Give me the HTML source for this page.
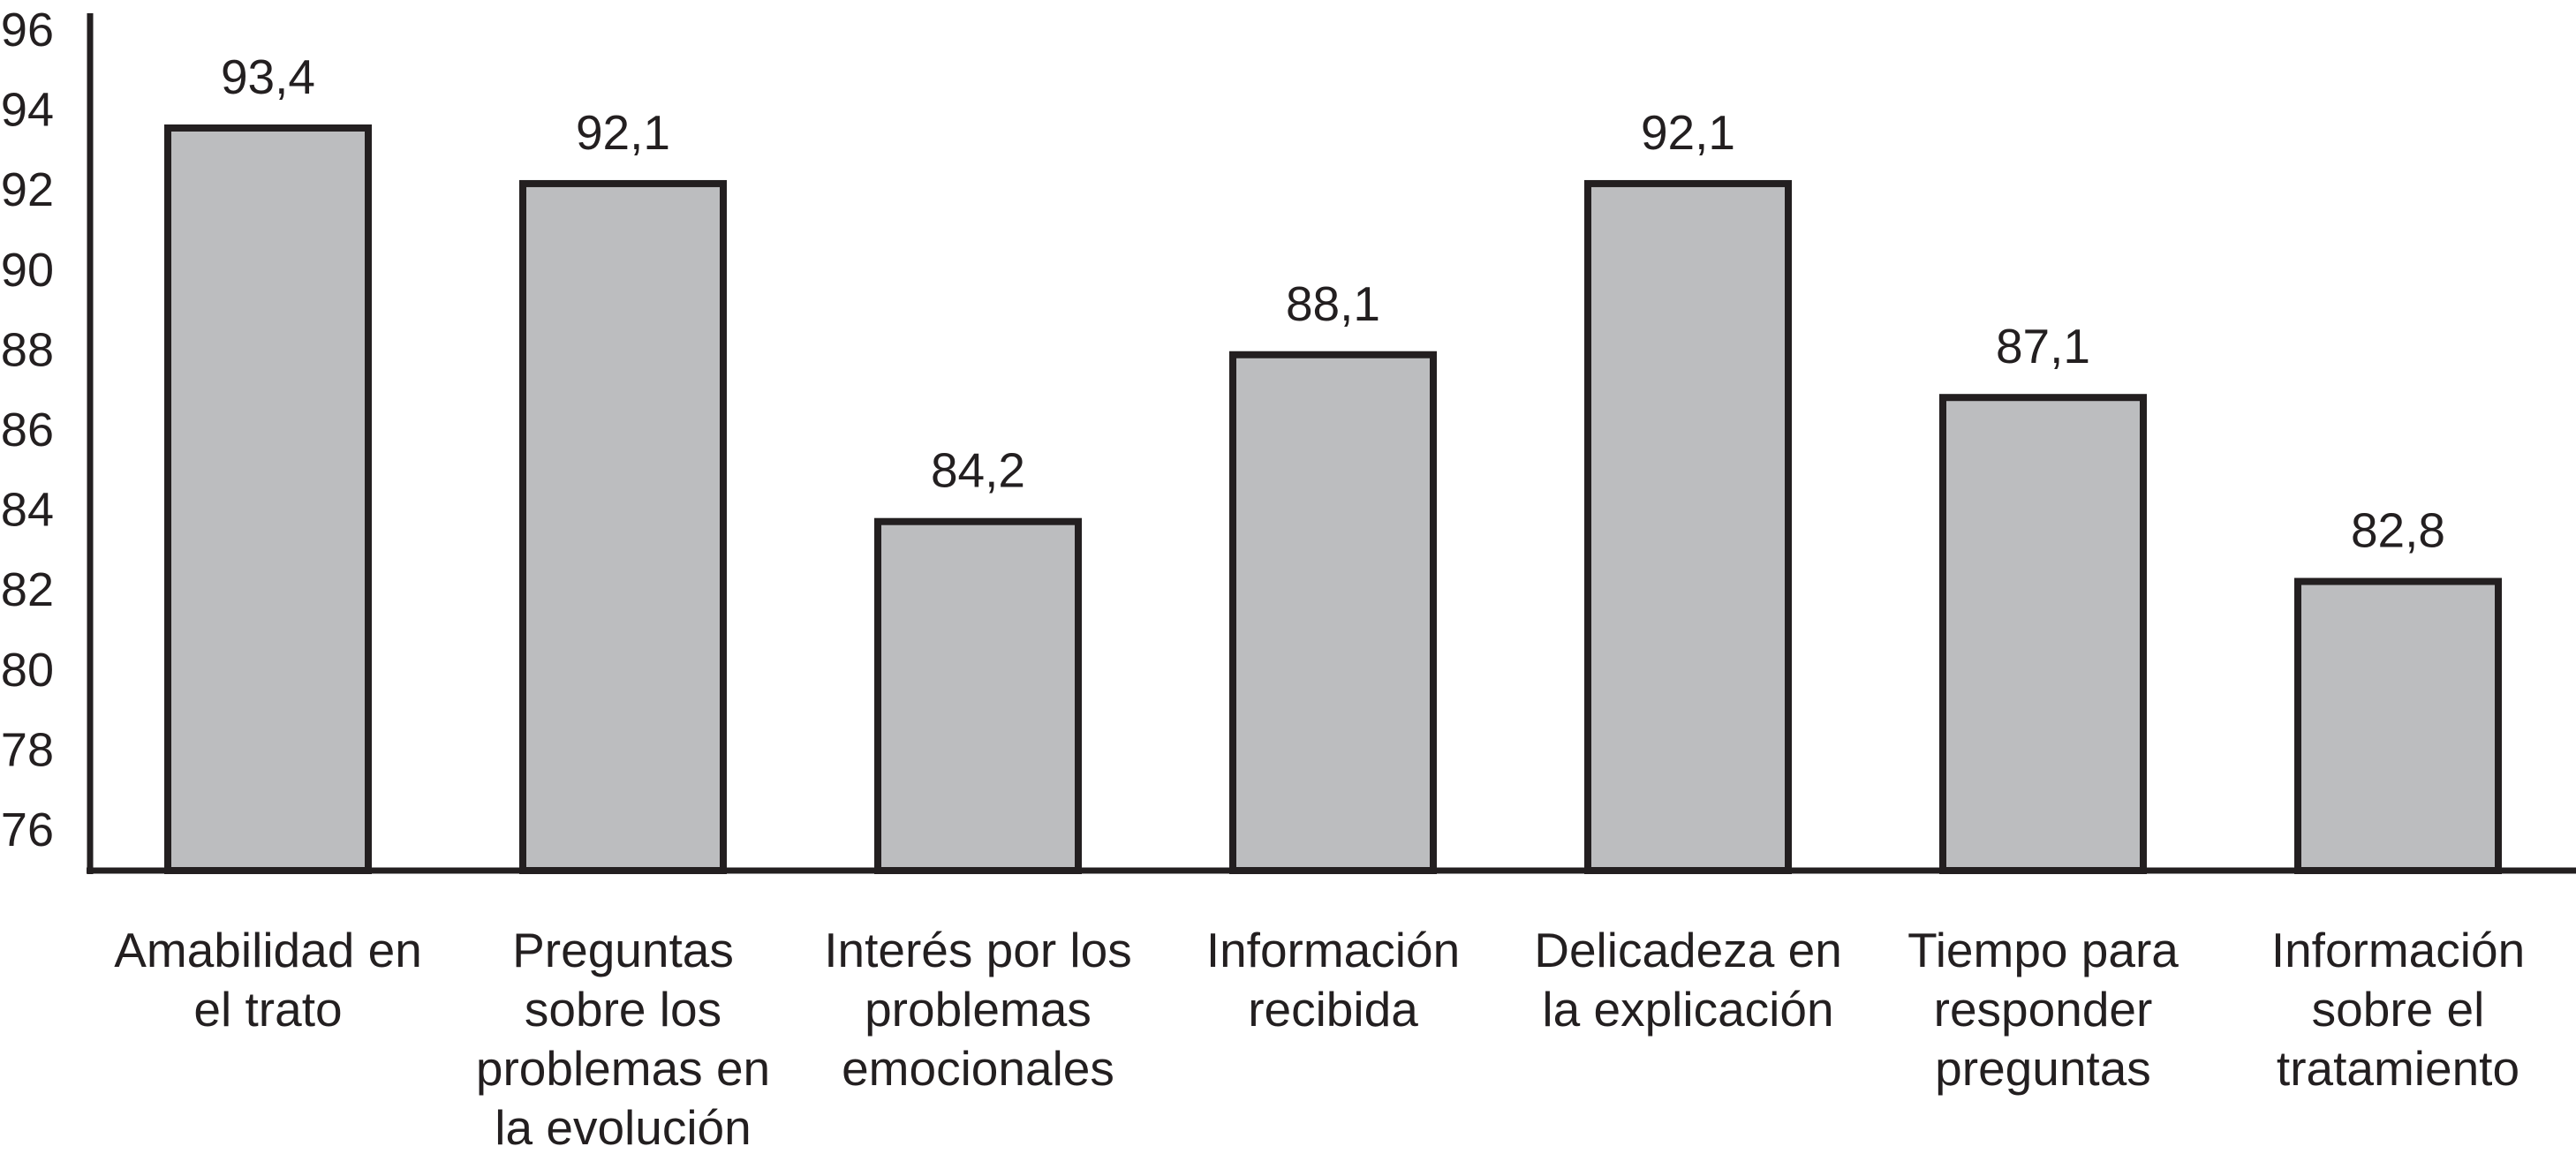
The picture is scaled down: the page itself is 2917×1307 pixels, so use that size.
<!DOCTYPE html>
<html><head><meta charset="utf-8"><style>
html,body{margin:0;padding:0;background:#fff}
svg{display:block}
text{font-family:"Liberation Sans",Arial,sans-serif;fill:#231f20}
</style></head><body>
<svg id="chart" width="2917" height="1307" viewBox="0 0 2917 1307" xmlns="http://www.w3.org/2000/svg">
<g id="ticks"></g>
<g id="bars"></g>
<g id="cats"></g>
<line x1="102" y1="15" x2="102" y2="990" stroke="#231f20" stroke-width="7"/>
<line x1="98" y1="986" x2="2917" y2="986" stroke="#231f20" stroke-width="7"/>
</svg>
<script>
const categories = [["Amabilidad en","el trato"],["Preguntas","sobre los","problemas en","la evolución"],["Interés por los","problemas","emocionales"],["Información","recibida"],["Delicadeza en","la explicación"],["Tiempo para","responder","preguntas"],["Información","sobre el","tratamiento"]];
const values = [93.4, 92.1, 84.2, 88.1, 92.1, 87.1, 82.8];
const valueLabels = ["93,4","92,1","84,2","88,1","92,1","87,1","82,8"];
const tickValues = [96,94,92,90,88,86,84,82,80,78,76];

const NS="http://www.w3.org/2000/svg";
const yBar = v => 988 - (v - 76) * 48.45;
const yTick = v => 33 + (96 - v) * 45.3;
const xBand = i => 190 + i * 402;
const bw = 227;
function mk(tag, attrs, parent){const e=document.createElementNS(NS,tag);for(const k in attrs)e.setAttribute(k,attrs[k]);parent.appendChild(e);return e;}
const tg=document.getElementById('ticks'), bg=document.getElementById('bars'), cg=document.getElementById('cats');
tickValues.forEach(v=>{
  const t=mk('text',{x:61,y:yTick(v)+19,'text-anchor':'end','font-size':54},tg);
  
  
  t.textContent=v;
});
values.forEach((v,i)=>{
  const x=xBand(i), y=yBar(v);
  const r=mk('rect',{x:x,y:y,width:bw,height:986-y,fill:'#bcbdbf',stroke:'#231f20','stroke-width':8},bg);
  
  
  const t=mk('text',{x:x+bw/2,y:y-39,'text-anchor':'middle','font-size':55},bg);
  
  
  t.textContent=valueLabels[i];
  categories[i].forEach((line,j)=>{
    const c=mk('text',{x:x+bw/2,y:1095+j*67,'text-anchor':'middle','font-size':55},cg);
    
    
    c.textContent=line;
  });
});
</script>
</body></html>
